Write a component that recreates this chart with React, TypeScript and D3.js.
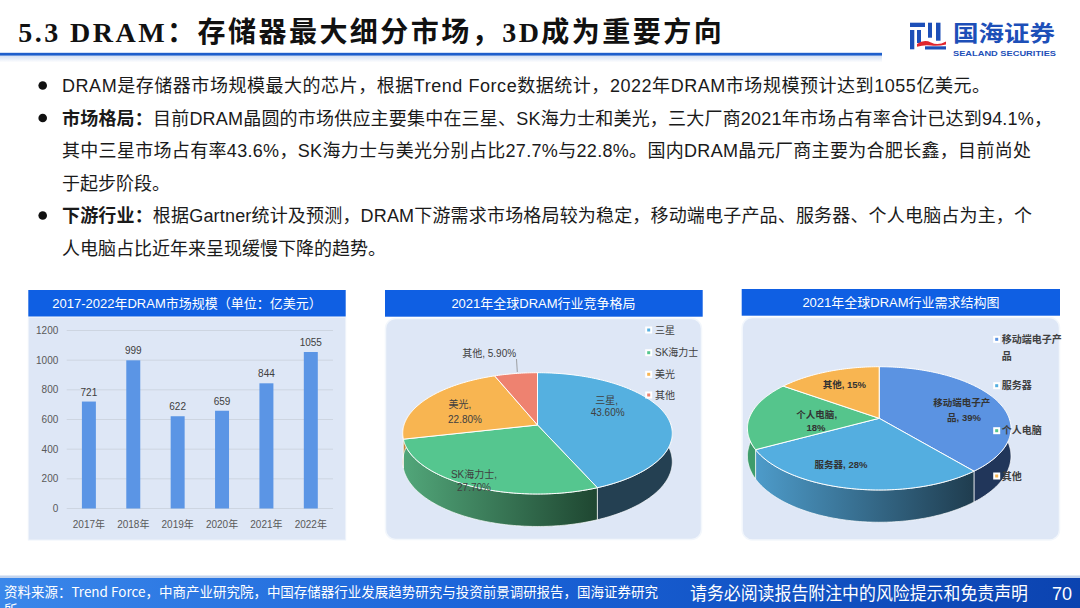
import React from 'react';
import * as d3 from 'd3';

// ---------------- data ----------------
const years = ['2017年', '2018年', '2019年', '2020年', '2021年', '2022年'];
const marketSize = [721, 999, 622, 659, 844, 1055];
const yTicks = [0, 200, 400, 600, 800, 1000, 1200];

const vendors = ['三星', 'SK海力士', '美光', '其他'];
const vendorShare = [43.6, 27.7, 22.8, 5.9];

const segments = ['移动端电子产品', '服务器', '个人电脑', '其他'];
const segmentShare = [39, 28, 18, 15];

const slideTitle = ['5.3 DRAM', '：存储器最大细分市场，', '3D', '成为重要方向'];
const chartTitles = [
  '2017-2022年DRAM市场规模（单位：亿美元）',
  '2021年全球DRAM行业竞争格局',
  '2021年全球DRAM行业需求结构图',
];
const bodyLines = [
  { bullet: true, bold: '', text: 'DRAM是存储器市场规模最大的芯片，根据Trend Force数据统计，2022年DRAM市场规模预计达到1055亿美元。' },
  { bullet: true, bold: '市场格局：', text: '目前DRAM晶圆的市场供应主要集中在三星、SK海力士和美光，三大厂商2021年市场占有率合计已达到94.1%，' },
  { bullet: false, bold: '', text: '其中三星市场占有率43.6%，SK海力士与美光分别占比27.7%与22.8%。国内DRAM晶元厂商主要为合肥长鑫，目前尚处' },
  { bullet: false, bold: '', text: '于起步阶段。' },
  { bullet: true, bold: '下游行业：', text: '根据Gartner统计及预测，DRAM下游需求市场格局较为稳定，移动端电子产品、服务器、个人电脑占为主，个' },
  { bullet: false, bold: '', text: '人电脑占比近年来呈现缓慢下降的趋势。' },
];
const sourceText = '资料来源：Trend Force，中商产业研究院，中国存储器行业发展趋势研究与投资前景调研报告，国海证券研究';
const sourceWrap = '所';
const disclaimer = '请务必阅读报告附注中的风险提示和免责声明';
const pageNo = '70';

// ---------------- helpers ----------------
const FONT = '"Liberation Sans", "Noto Sans CJK SC", sans-serif';
const CJK = '"Noto Sans CJK SC", "Liberation Sans", sans-serif';

type PieGeom = { cx: number; ay: number; rx: number; ry: number; k: number; d: number };

function proj(p: PieGeom, a: number, depth = 0, r = 1): [number, number] {
  const u = Math.sin(a) * r;
  const w = -Math.cos(a) * r;
  const s = 1 / (1 - p.k * w);
  return [p.cx + p.rx * u * s, p.ay + p.ry * w * s + depth * s];
}

function arcPoints(p: PieGeom, a0: number, a1: number, depth: number) {
  const n = Math.max(2, Math.ceil((a1 - a0) / (Math.PI / 180)));
  return d3.range(n + 1).map((i) => proj(p, a0 + ((a1 - a0) * i) / n, depth));
}

function Pie3D({ p, values, tops, walls }: { p: PieGeom; values: number[]; tops: string[]; walls: string[] }) {
  const arcs = d3.pie<number>().sort(null).value((d) => d)(values);
  const line = d3.line();
  const lo = Math.PI / 2 - 0.25;
  const hi = (3 * Math.PI) / 2 + 0.25;
  const wallPaths = arcs
    .map((a, i) => {
      const b0 = Math.max(a.startAngle, lo);
      const b1 = Math.min(a.endAngle, hi);
      if (b1 <= b0) return null;
      const pts = arcPoints(p, b0, b1, 0).concat(arcPoints(p, b0, b1, p.d).reverse());
      return { i, d: line(pts as [number, number][]) + 'Z' };
    })
    .filter(Boolean) as { i: number; d: string }[];
  return (
    <g>
      {wallPaths.map((w) => (
        <path key={'w' + w.i} d={w.d} fill={walls[w.i]} stroke="#ffffff" strokeWidth={0.8} strokeOpacity={0.85} />
      ))}
      {arcs.map((a, i) => {
        const pts = [[p.cx, p.ay] as [number, number]].concat(arcPoints(p, a.startAngle, a.endAngle, 0));
        return <path key={'t' + i} d={line(pts) + 'Z'} fill={tops[i]} stroke="#ffffff" strokeWidth={1} />;
      })}
    </g>
  );
}

function LegendMark({ x, y, color }: { x: number; y: number; color: string }) {
  return (
    <g>
      <rect x={x - 3.5} y={y - 3.5} width={7} height={7} fill="#ffffff" />
      <rect x={x - 1.5} y={y - 1.5} width={3} height={3} fill={color} />
    </g>
  );
}

export default function App() {
  const W = 1080;
  const H = 608;

  // bar chart scales
  const x = d3.scaleBand<string>().domain(years).range([66.7, 333]).paddingInner(0.685).paddingOuter(0.3425);
  const y = d3.scaleLinear().domain([0, 1200]).range([508.5, 330.5]);

  const pie2: PieGeom = { cx: 537.5, ay: 425, rx: 133.5, ry: 59.5, k: 0.1377, d: 28 };
  const pie3: PieGeom = { cx: 879.2, ay: 418.3, rx: 130, ry: 60, k: 0.163, d: 27 };

  const vColors = ['#55B0E0', '#55C68F', '#F8B551', '#EE8270'];
  const sColors = ['#5B93E2', '#54AEE0', '#55C58C', '#F8B551'];
  const pct2 = d3.format('.2f');

  const lineY = [92, 124.5, 157, 189.5, 222, 254.5];
  const lineLen: (number | undefined)[] = [928, 990, 969, undefined, 970, undefined];

  return (
    <svg width={W} height={H} viewBox={`0 0 ${W} ${H}`} style={{ position: 'absolute', left: 0, top: 0, background: '#fff' }}>
      <defs>
        <linearGradient id="hdrShadow" x1="0" y1="0" x2="0" y2="1">
          <stop offset="0" stopColor="#D3DFF2" />
          <stop offset="1" stopColor="#ffffff" />
        </linearGradient>
        <linearGradient id="footer" x1="0" y1="0" x2="1" y2="0">
          <stop offset="0" stopColor="#3A87EA" />
          <stop offset="0.45" stopColor="#1A63D8" />
          <stop offset="1" stopColor="#0B43B0" />
        </linearGradient>
        <linearGradient id="gSK" gradientUnits="userSpaceOnUse" x1="402" y1="0" x2="600" y2="0">
          <stop offset="0" stopColor="#52A77A" />
          <stop offset="1" stopColor="#1E4530" />
        </linearGradient>
        <linearGradient id="gSrv" gradientUnits="userSpaceOnUse" x1="752" y1="0" x2="975" y2="0">
          <stop offset="0" stopColor="#4E9DCC" />
          <stop offset="1" stopColor="#1F3C4E" />
        </linearGradient>
      </defs>

      {/* header */}
      <text x={18.3} y={42} fontSize={28} fontWeight={700} fill="#111" textLength={703.4} lengthAdjust="spacing"
        fontFamily='"Liberation Serif", "Noto Sans CJK SC", serif'>
        {slideTitle.map((t, i) => (
          <tspan key={i}>{t}</tspan>
        ))}
      </text>
      <rect x={0} y={55.5} width={882} height={7} fill="url(#hdrShadow)" />
      <rect x={0} y={52.8} width={882} height={2.8} fill="#1F5FCC" />

      {/* logo */}
      <g fill="#1D4FB8">
        <rect x={910} y={22.7} width={15} height={4.3} />
        <rect x={910} y={30} width={4.3} height={19.3} />
        <rect x={917} y={30} width={4} height={13} />
        <rect x={928} y={22.7} width={4} height={15} />
        <rect x={936} y={22.7} width={4.5} height={18} />
        <rect x={925} y={46.3} width={21} height={3.2} />
      </g>
      <path d="M917,44 Q924,39 931,42.5 T946,41.5 L946,44.5 Q938,46.5 931,45.5 T917,46.8 Z" fill="#E0262E" />
      <text x={953} y={40.5} fontSize={22} fontWeight={700} fill="#1D4FB8" fontFamily={CJK} textLength={102} lengthAdjust="spacingAndGlyphs">
        国海证券
      </text>
      <text x={953} y={56.3} fontSize={8} fontWeight={700} fill="#1D4FB8" fontFamily={FONT} textLength={103} lengthAdjust="spacingAndGlyphs">
        SEALAND SECURITIES
      </text>

      {/* body text */}
      {bodyLines.map((l, i) => (
        <g key={i}>
          {l.bullet && <circle cx={42.7} cy={lineY[i] - 6.5} r={4.3} fill="#111" />}
          <text x={62} y={lineY[i]} fontSize={18} fill="#1a1a1a" fontFamily={FONT}
            {...(lineLen[i] ? { textLength: lineLen[i], lengthAdjust: 'spacing' } : {})}>
            {l.bold && <tspan fontWeight={700} fontFamily={CJK}>{l.bold}</tspan>}
            <tspan>{l.text}</tspan>
          </text>
        </g>
      ))}

      {/* ---------- panel 1: bar chart ---------- */}
      <rect x={28.3} y={290} width={317.4} height={26.7} fill="#0F5FE3" />
      <text x={187} y={308} fontSize={13} fill="#fff" textAnchor="middle" fontFamily={FONT}>{chartTitles[0]}</text>
      <rect x={28.3} y={317.2} width={317.4} height={222.8} fill="#DEE7F6" stroke="#EEF3FB" strokeWidth={1} />
      {yTicks.map((t) => (
        <g key={t}>
          <line x1={66.7} x2={333} y1={y(t)} y2={y(t)} stroke="#CDD5E1" strokeWidth={1} />
          <text x={58.3} y={y(t) + 3.6} fontSize={10} fill="#595959" textAnchor="end" fontFamily={FONT}>{t}</text>
        </g>
      ))}
      {years.map((yr, i) => (
        <g key={yr}>
          <rect x={x(yr)} y={y(marketSize[i])} width={x.bandwidth()} height={y(0) - y(marketSize[i])} fill="#5B95E5" />
          <text x={(x(yr) as number) + x.bandwidth() / 2} y={y(marketSize[i]) - 6} fontSize={10} fill="#404040" textAnchor="middle" fontFamily={FONT}>
            {marketSize[i]}
          </text>
          <text x={(x(yr) as number) + x.bandwidth() / 2} y={527.8} fontSize={10} fill="#595959" textAnchor="middle" fontFamily={FONT}>
            {yr}
          </text>
        </g>
      ))}

      {/* ---------- panel 2: vendor share pie ---------- */}
      <rect x={385} y={290} width={317.7} height={26.7} fill="#0F5FE3" />
      <text x={543.5} y={308} fontSize={13} fill="#fff" textAnchor="middle" fontFamily={FONT}>{chartTitles[1]}</text>
      <rect x={385.5} y={318.5} width={316} height={221} rx={10} fill="#DEE7F6" stroke="#F3F7FC" strokeWidth={1.5} />
      <Pie3D p={pie2} values={vendorShare} tops={vColors} walls={['#244052', 'url(#gSK)', '#C4883A', '#B5584A']} />
      <g fontSize={10} fill="#404040" fontFamily={FONT} textAnchor="middle">
        <text x={606.7} y={403.6}>{vendors[0]},</text>
        <text x={607.7} y={416.3}>{pct2(vendorShare[0])}%</text>
        <text x={474} y={477.9}>{vendors[1]},</text>
        <text x={474} y={490.9}>{pct2(vendorShare[1])}%</text>
        <text x={460} y={407.9}>{vendors[2]},</text>
        <text x={465} y={422.9}>{pct2(vendorShare[2])}%</text>
        <text x={489.2} y={356.9}>{vendors[3]}, {pct2(vendorShare[3])}%</text>
      </g>
      <line x1={516.5} y1={359} x2={517.3} y2={372} stroke="#8C8C8C" strokeWidth={0.8} />
      {vendors.map((v, i) => (
        <g key={v}>
          <LegendMark x={648.7} y={[330, 352.7, 374.3, 395][i]} color={vColors[i]} />
          <text x={655} y={[330, 352.7, 374.3, 395][i] + 3.6} fontSize={10} fill="#404040" fontFamily={FONT}>{v}</text>
        </g>
      ))}

      {/* ---------- panel 3: demand structure pie ---------- */}
      <rect x={741.7} y={289} width={318.3} height={26.7} fill="#0F5FE3" />
      <text x={901} y={307} fontSize={13} fill="#fff" textAnchor="middle" fontFamily={FONT}>{chartTitles[2]}</text>
      <rect x={742.2} y={317.5} width={317.3} height={222.5} rx={10} fill="#DEE7F6" stroke="#F3F7FC" strokeWidth={1.5} />
      <Pie3D p={pie3} values={segmentShare} tops={sColors} walls={['#21365A', 'url(#gSrv)', '#3E9C6B', '#C4883A']} />
      <g fontSize={9.5} fontWeight={700} fill="#333" fontFamily={FONT} textAnchor="middle">
        <text x={961.7} y={405.7}>{segments[0].slice(0, 6)}</text>
        <text x={964} y={421}>{segments[0].slice(6)}, {segmentShare[0]}%</text>
        <text x={841} y={467.7}>{segments[1]}, {segmentShare[1]}%</text>
        <text x={816.7} y={418.4}>{segments[2]},</text>
        <text x={816} y={431.1}>{segmentShare[2]}%</text>
        <text x={844.3} y={388.4}>{segments[3]}, {segmentShare[3]}%</text>
      </g>
      {segments.map((s, i) => {
        const ly = [339.3, 385.7, 430.7, 476][i];
        return (
          <g key={s}>
            <LegendMark x={996.7} y={ly} color={sColors[i]} />
            {i === 0 ? (
              <text fontSize={10} fontWeight={700} fill="#404040" fontFamily={FONT}>
                <tspan x={1001.7} y={ly + 3.6}>{s.slice(0, 6)}</tspan>
                <tspan x={1001.7} y={ly + 20.3}>{s.slice(6)}</tspan>
              </text>
            ) : (
              <text x={1001.7} y={ly + 3.6} fontSize={10} fontWeight={700} fill="#404040" fontFamily={FONT}>{s}</text>
            )}
          </g>
        );
      })}

      {/* footer */}
      <rect x={0} y={575.5} width={W} height={2.5} fill="#C3D4EE" />
      <rect x={0} y={578} width={W} height={30} fill="url(#footer)" />
      <text x={4} y={597} fontSize={13.5} fill="#fff" fontFamily={CJK} textLength={654} lengthAdjust="spacingAndGlyphs">{sourceText}</text>
      <text x={4} y={614.5} fontSize={13.5} fill="#fff" fontFamily={CJK}>{sourceWrap}</text>
      <text x={690} y={599.5} fontSize={18} fill="#fff" fontFamily={CJK} textLength={338} lengthAdjust="spacingAndGlyphs">{disclaimer}</text>
      <text x={1052} y={600} fontSize={18} fill="#fff" fontFamily={FONT}>{pageNo}</text>
    </svg>
  );
}
